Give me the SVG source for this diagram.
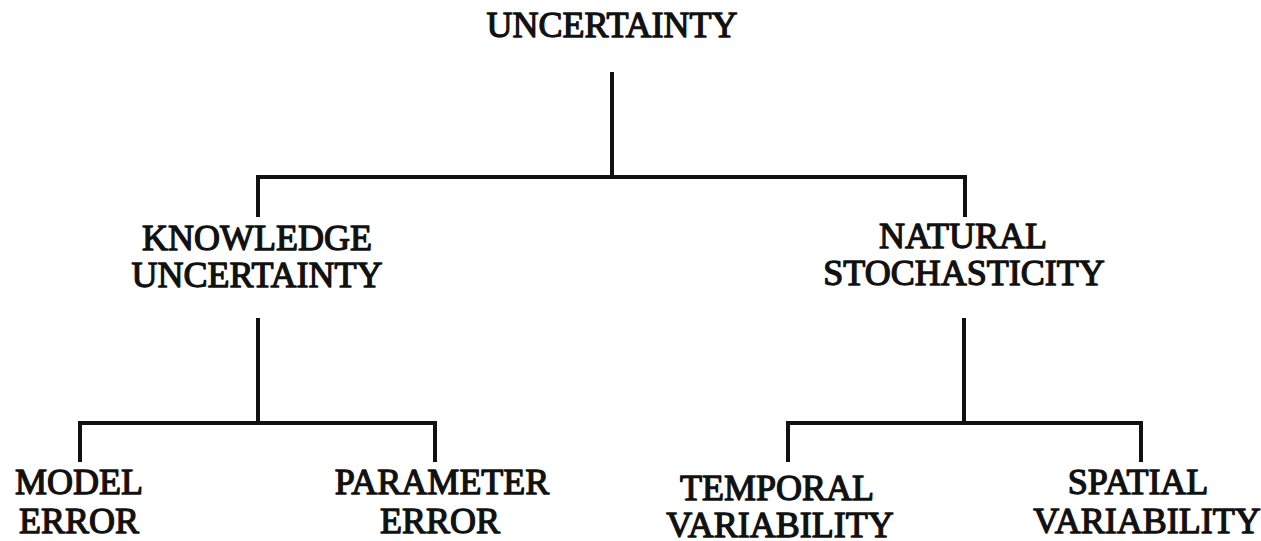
<svg xmlns="http://www.w3.org/2000/svg" width="1261" height="541" viewBox="0 0 1261 541">
  <style>
    .lbl { font-family: "Liberation Serif", "Times New Roman", serif; font-weight: normal; font-size: 36px; fill: #111; stroke: #111; stroke-width: 1.3; stroke-linejoin: round; text-anchor: middle; }
    .wire { fill: none; stroke: #111; stroke-width: 4; stroke-linecap: butt; stroke-linejoin: miter; }
  </style>
  <rect width="1261" height="541" fill="#fff"/>

  <g id="connectors">
    <!-- root to first level -->
    <path class="wire" d="M612 72 V177"/>
    <path class="wire" d="M258 217 V177 H965 V217"/>
    <!-- knowledge uncertainty branch -->
    <path class="wire" d="M258 318 V423"/>
    <path class="wire" d="M80 462 V423 H435 V462"/>
    <!-- natural stochasticity branch -->
    <path class="wire" d="M964 318 V423"/>
    <path class="wire" d="M788 462 V423 H1141 V462"/>
  </g>

  <g id="uncertainty">
    <text class="lbl" x="612" y="37">UNCERTAINTY</text>
  </g>
  <g id="knowledge-uncertainty">
    <text class="lbl" x="257" y="250">KNOWLEDGE</text>
    <text class="lbl" x="257" y="287">UNCERTAINTY</text>
  </g>
  <g id="natural-stochasticity">
    <text class="lbl" x="963" y="248">NATURAL</text>
    <text class="lbl" x="964" y="285">STOCHASTICITY</text>
  </g>
  <g id="model-error">
    <text class="lbl" x="79" y="494">MODEL</text>
    <text class="lbl" x="79" y="533">ERROR</text>
  </g>
  <g id="parameter-error">
    <text class="lbl" x="442" y="494">PARAMETER</text>
    <text class="lbl" x="440" y="533">ERROR</text>
  </g>
  <g id="temporal-variability">
    <text class="lbl" x="777" y="500">TEMPORAL</text>
    <text class="lbl" x="780" y="537">VARIABILITY</text>
  </g>
  <g id="spatial-variability">
    <text class="lbl" x="1138" y="494">SPATIAL</text>
    <text class="lbl" x="1147" y="533">VARIABILITY</text>
  </g>
</svg>
